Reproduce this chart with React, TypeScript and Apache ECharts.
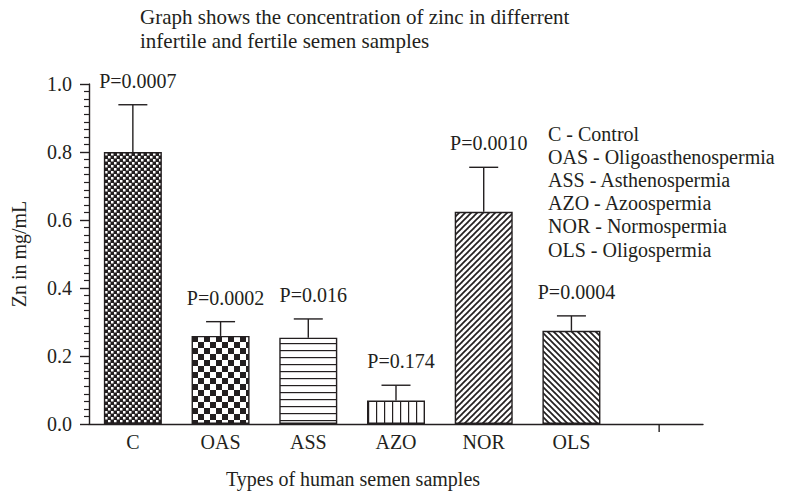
import React, { useEffect, useRef } from "react";
import * as echarts from "echarts";

// ---- data ----
const categories = ["C", "OAS", "ASS", "AZO", "NOR", "OLS", " "];
const means = [0.8, 0.259, 0.254, 0.069, 0.624, 0.274];
const errors = [0.139, 0.042, 0.055, 0.045, 0.131, 0.044];
const pLabels = ["P=0.0007", "P=0.0002", "P=0.016", "P=0.174", "P=0.0010", "P=0.0004"];
const titleLines = [
  "Graph shows the concentration of zinc in differrent",
  "infertile and fertile semen samples",
];
const legendLines = [
  "C - Control",
  "OAS - Oligoasthenospermia",
  "ASS - Asthenospermia",
  "AZO - Azoospermia",
  "NOR - Normospermia",
  "OLS - Oligospermia",
];
const yAxisName = "Zn in mg/mL";
const xAxisName = "Types of human semen samples";

// ---- styles ----
const INK = "#231f20";
const FONT = "Liberation Serif";
const FS = 20;
const X_TICK_LEN = 8;

function makeCanvas(w: number, h: number, draw: (c: CanvasRenderingContext2D) => void) {
  const cv = document.createElement("canvas");
  cv.width = w;
  cv.height = h;
  const ctx = cv.getContext("2d")!;
  ctx.fillStyle = "#fff";
  ctx.fillRect(0, 0, w, h);
  draw(ctx);
  return cv;
}

function buildPatterns() {
  const fineChecker = makeCanvas(6, 6, (c) => {
    c.fillStyle = INK;
    c.fillRect(0, 0, 6, 6);
    c.fillStyle = "#fff";
    c.fillRect(0, 0, 2.5, 2.5);
    c.fillRect(3, 3, 2.5, 2.5);
  });
  const coarseChecker = makeCanvas(12, 12, (c) => {
    c.fillStyle = INK;
    c.fillRect(0, 0, 6, 6);
    c.fillRect(6, 6, 6, 6);
  });
  const hLines = makeCanvas(4, 7, (c) => {
    c.fillStyle = INK;
    c.fillRect(0, 0, 4, 1.2);
  });
  const vLines = makeCanvas(8, 4, (c) => {
    c.fillStyle = INK;
    c.fillRect(0, 0, 1.2, 4);
  });
  const diag = (forward: boolean) =>
    makeCanvas(6, 6, (c) => {
      c.strokeStyle = INK;
      c.lineWidth = 1.7;
      const s = 6;
      const seg = (x1: number, y1: number, x2: number, y2: number) => {
        c.beginPath();
        c.moveTo(x1, y1);
        c.lineTo(x2, y2);
        c.stroke();
      };
      if (forward) {
        seg(0, s, s, 0);
        seg(-s, s, s, -s);
        seg(0, 2 * s, 2 * s, 0);
      } else {
        seg(0, 0, s, s);
        seg(-s, 0, s, 2 * s);
        seg(0, -s, 2 * s, s);
      }
    });
  return [fineChecker, coarseChecker, hLines, vLines, diag(true), diag(false)].map((cv) => ({
    image: cv,
    repeat: "repeat",
  }));
}

export default function App() {
  const ref = useRef<HTMLDivElement>(null);
  useEffect(() => {
    if (!ref.current) return;
    const chart = echarts.init(ref.current, null, { renderer: "svg" });
    const patterns = buildPatterns();
    const textStyle = { fontFamily: FONT, fontSize: FS, color: INK };

    const option: any = {
      animation: false,
      backgroundColor: "#fff",
      grid: { left: 89, right: 91, top: 84, bottom: 69, containLabel: false },
      xAxis: {
        type: "category",
        data: categories,
        axisLine: { lineStyle: { color: INK, width: 1.4 } },
        axisTick: { alignWithLabel: true, interval: 0, length: X_TICK_LEN, lineStyle: { color: INK, width: 1.4 } },
        axisLabel: { ...textStyle, interval: 0, margin: 8 },
        splitLine: { show: false },
      },
      yAxis: {
        type: "value",
        min: 0,
        max: 1,
        interval: 0.2,
        name: yAxisName,
        nameLocation: "middle",
        nameGap: 60,
        nameTextStyle: textStyle,
        axisLine: { show: true, lineStyle: { color: INK, width: 1.4 } },
        axisTick: { show: true, length: 9, lineStyle: { color: INK, width: 1.4 } },
        minorTick: { show: true, splitNumber: 9, length: 5, lineStyle: { color: INK, width: 1.2 } },
        axisLabel: { ...textStyle, margin: 17, formatter: (v: number) => v.toFixed(1) },
        splitLine: { show: false },
      },
      graphic: [
        {
          type: "text",
          left: 140,
          top: 5,
          style: {
            text: titleLines.join("\n"),
            fill: INK,
            font: `21px "${FONT}"`,
            lineHeight: 24,
          },
        },
        {
          type: "text",
          left: 548,
          top: 122,
          style: {
            text: legendLines.join("\n"),
            fill: INK,
            font: `${FS}px "${FONT}"`,
            lineHeight: 23.2,
          },
        },
        {
          type: "text",
          x: 353,
          y: 479,
          style: {
            text: xAxisName,
            fill: INK,
            font: `${FS}px "${FONT}"`,
            align: "center",
            verticalAlign: "middle",
          },
        },
      ],
      series: [
        {
          type: "bar",
          barWidth: 58,
          data: means.map((v, i) => ({
            value: v,
            itemStyle: { color: patterns[i], borderColor: INK, borderWidth: 1.4 },
          })),
        },
        {
          type: "custom",
          clip: false,
          data: means.map((v, i) => [i, v, v + errors[i]]),
          encode: { x: 0, y: [1, 2] },
          renderItem: (params: any, api: any) => {
            const i = api.value(0);
            const base = api.coord([i, api.value(1)]);
            const top = api.coord([i, api.value(2)]);
            const half = 14.5;
            const ls = { stroke: INK, lineWidth: 1.4 };
            return {
              type: "group",
              children: [
                { type: "line", shape: { x1: base[0], y1: base[1], x2: top[0], y2: top[1] }, style: ls },
                { type: "line", shape: { x1: top[0] - half, y1: top[1], x2: top[0] + half, y2: top[1] }, style: ls },
                {
                  type: "text",
                  x: top[0] + 5,
                  y: top[1] - 24,
                  style: {
                    text: pLabels[params.dataIndex],
                    fill: INK,
                    font: `${FS}px "${FONT}"`,
                    align: "center",
                    verticalAlign: "middle",
                  },
                },
              ],
            };
          },
        },
        {
          // tick for the trailing empty category
          type: "custom",
          clip: false,
          silent: true,
          data: [[categories.length - 1, 0]],
          encode: { x: 0, y: 1 },
          renderItem: (_params: any, api: any) => {
            const p = api.coord([api.value(0), api.value(1)]);
            return {
              type: "line",
              shape: { x1: p[0], y1: p[1], x2: p[0], y2: p[1] + X_TICK_LEN },
              style: { stroke: INK, lineWidth: 1.4 },
            };
          },
        },
      ],
    };
    chart.setOption(option);
    return () => chart.dispose();
  }, []);
  return (
    <div
      ref={ref}
      style={{ position: "fixed", left: 0, top: 0, width: 794, height: 493, background: "#fff" }}
    />
  );
}
